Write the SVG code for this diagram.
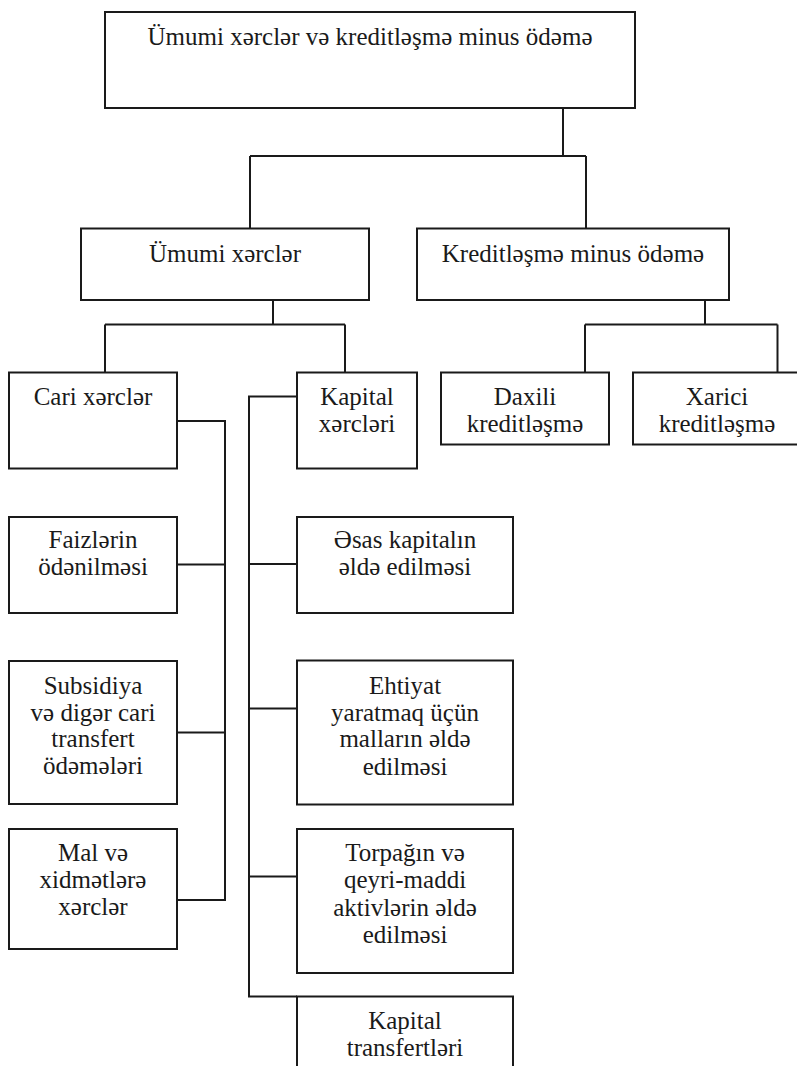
<svg xmlns="http://www.w3.org/2000/svg" width="797" height="1066" viewBox="0 0 797 1066">
<style>
.box{fill:#fff;stroke:#1a1a1a;stroke-width:2}
.con{fill:none;stroke:#1a1a1a;stroke-width:2}
.t{font-family:'Liberation Serif','Times New Roman','DejaVu Serif',serif;font-size:25px;fill:#1a1a1a;text-anchor:middle}
</style>
<rect width="797" height="1066" fill="#fff"/>
<g id="connectors" class="con">
<path d="M563,108 V156 M250,156 H586 M250,156 V228.5 M586,156 V228.5"/>
<path d="M273,300 V324.5 M105,324.5 H345 M105,324.5 V372.5 M345,324.5 V372.5"/>
<path d="M705,300 V324.5 M585,324.5 H777.5 M585,324.5 V372.5 M777.5,324.5 V372.5"/>
<path d="M177,421 H225 V900 H177 M177,564.5 H225 M177,732.5 H225"/>
<path d="M297,396.5 H249 V996.5 H297 M249,564 H297 M249,708.5 H297 M249,876.5 H297"/>
</g>
<g class="t" font-family="Liberation Serif, DejaVu Serif, serif">
<g id="n_top"><rect class="box" x="105" y="12" width="530" height="96"/><text x="370" y="45">Ümumi xərclər və kreditləşmə minus ödəmə</text></g>
<g id="n_umumi"><rect class="box" x="81" y="228.5" width="288" height="71.5"/><text x="225" y="261.5">Ümumi xərclər</text></g>
<g id="n_kredit"><rect class="box" x="417" y="228.5" width="312" height="71.5"/><text x="573" y="261.5">Kreditləşmə minus ödəmə</text></g>
<g id="n_cari"><rect class="box" x="9" y="372.5" width="168" height="96"/><text x="93" y="405">Cari xərclər</text></g>
<g id="n_kapital"><rect class="box" x="297" y="372.5" width="120" height="96"/><text x="357" y="405">Kapital</text><text x="357" y="431.7">xərcləri</text></g>
<g id="n_daxili"><rect class="box" x="441" y="372.5" width="168" height="72"/><text x="525" y="405">Daxili</text><text x="525" y="431.7">kreditləşmə</text></g>
<g id="n_xarici"><rect class="box" x="633" y="372.5" width="170" height="72"/><text x="717" y="405">Xarici</text><text x="717" y="431.7">kreditləşmə</text></g>
<g id="n_faiz"><rect class="box" x="9" y="517" width="168" height="96"/><text x="93" y="548.3">Faizlərin</text><text x="93" y="575">ödənilməsi</text></g>
<g id="n_esas"><rect class="box" x="297" y="517" width="216" height="96"/><text x="405" y="548.3">Əsas kapitalın</text><text x="405" y="575">əldə edilməsi</text></g>
<g id="n_subs"><rect class="box" x="9" y="661" width="168" height="143"/><text x="93" y="694">Subsidiya</text><text x="93" y="720.7">və digər cari</text><text x="93" y="747.3">transfert</text><text x="93" y="774">ödəmələri</text></g>
<g id="n_ehtiyat"><rect class="box" x="297" y="660.5" width="216" height="144"/><text x="405" y="693.5">Ehtiyat</text><text x="405" y="720.5">yaratmaq üçün</text><text x="405" y="747.3">malların əldə</text><text x="405" y="774.5">edilməsi</text></g>
<g id="n_mal"><rect class="box" x="9" y="829" width="168" height="120"/><text x="93" y="861">Mal və</text><text x="93" y="888">xidmətlərə</text><text x="93" y="915">xərclər</text></g>
<g id="n_torpaq"><rect class="box" x="297" y="829" width="216" height="144"/><text x="405" y="861">Torpağın və</text><text x="405" y="888">qeyri-maddi</text><text x="405" y="915.5">aktivlərin əldə</text><text x="405" y="943">edilməsi</text></g>
<g id="n_transfer"><rect class="box" x="297" y="996.5" width="216" height="100"/><text x="405" y="1029">Kapital</text><text x="405" y="1055.5">transfertləri</text></g>
</g>
</svg>
